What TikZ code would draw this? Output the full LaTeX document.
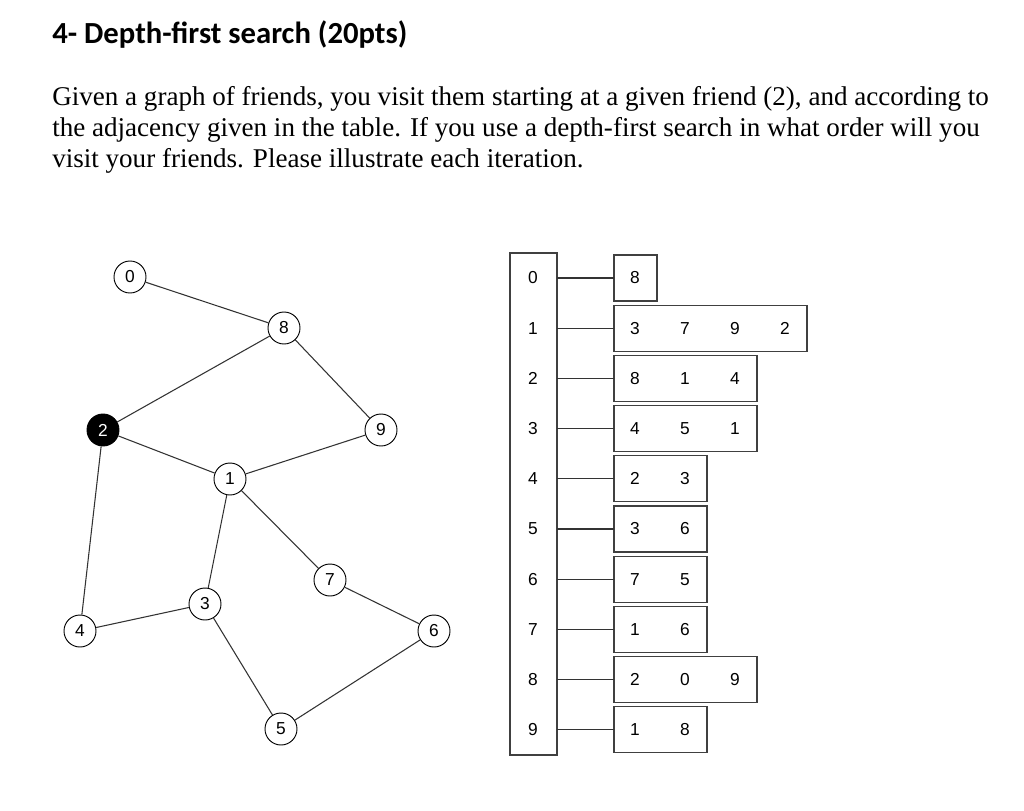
\documentclass[tikz,border=0pt]{standalone}
\usepackage{fontspec}
\setmainfont{Liberation Serif}
\newfontfamily\titlefont{Carlito}
\newfontfamily\numfont{Liberation Sans}
\begin{document}
\begin{tikzpicture}[x=0.75pt,y=-0.75pt,
  gnode/.style={circle,draw,line width=0.7pt,minimum size=24pt,inner sep=0pt,font=\numfont\fontsize{13}{15}\selectfont},
  edge/.style={line width=0.8pt,draw=black!80},
  cellbox/.style={draw,line width=0.9pt,draw=black!75},
  num/.style={font=\numfont\fontsize{13}{15}\selectfont}]
\useasboundingbox (0,0) rectangle (1024,810);
\node[anchor=west,inner sep=0pt,font=\titlefont\bfseries\fontsize{23}{27}\selectfont] (title) at (52,35) {4- Depth-first search (20pts)};
\node[anchor=north west,align=left,inner sep=0pt,font=\fontsize{20.3}{23.3}\selectfont] (body) at (52,86)
{Given a graph of friends, you visit them starting at a given friend (2), and according to\\
the adjacency given in the table. If you use a depth-first search in what order will you\\
visit your friends. Please illustrate each iteration.};
% graph
\node[gnode] (n0) at (130,277) {0};
\node[gnode] (n8) at (284,328) {8};
\node[gnode,fill=black,text=white] (n2) at (103,430) {2};
\node[gnode] (n9) at (381,430) {9};
\node[gnode] (n1) at (230,479) {1};
\node[gnode] (n7) at (330,580) {7};
\node[gnode] (n3) at (205,604) {3};
\node[gnode] (n4) at (80,631) {4};
\node[gnode] (n6) at (434,631) {6};
\node[gnode] (n5) at (281,729) {5};
\foreach \a/\b in {n0/n8,n8/n2,n8/n9,n2/n1,n1/n9,n2/n4,n1/n3,n1/n7,n4/n3,n3/n5,n7/n6,n6/n5}
  \draw[edge] (\a) -- (\b);
% table
\draw[cellbox] (510,253) rectangle (557,755);
\foreach \r/\len/\vals in {0/1/{8},1/4/{3,7,9,2},2/3/{8,1,4},3/3/{4,5,1},4/2/{2,3},5/2/{3,6},6/2/{7,5},7/2/{1,6},8/3/{2,0,9},9/2/{1,8}}{
  \pgfmathsetmacro{\yy}{278+50.2*\r}
  \node[num] (k\r) at (533,\yy) {\r};
  \pgfmathsetmacro{\xe}{614+(\len==1?43:50*\len-7)}
  \coordinate (bl\r) at (614,\yy-23);
  \coordinate (br\r) at (\xe,\yy+23);
  \draw[cellbox] (bl\r) rectangle (br\r);
  \coordinate (ks\r) at (557,\yy);
  \coordinate (ke\r) at (614,\yy);
  \draw[edge] (ks\r) -- (ke\r);
  \foreach \v [count=\i from 0] in \vals {
    \node[num] at (635+50*\i,\yy) {\v};
  }
}
\end{tikzpicture}
\end{document}
